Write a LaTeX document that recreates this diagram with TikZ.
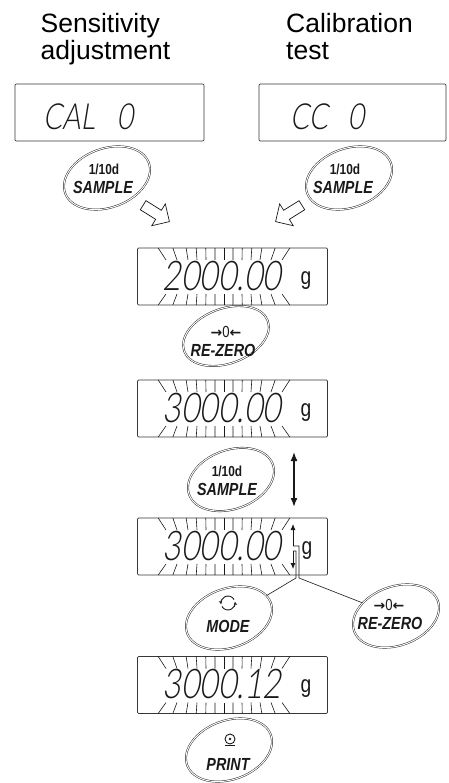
\documentclass[tikz,border=0pt]{standalone}
\usepackage{fontspec}
\usepackage{tikz}
\usetikzlibrary{
  arrows.meta,
  positioning,
  shapes.geometric,
  shapes.arrows,
  calc
}
\definecolor{inkdark}{RGB}{25, 25, 25}
\definecolor{lcdframe}{RGB}{55, 55, 55}
\newfontfamily\headfont{Liberation Sans}
\newfontfamily\keyfont[FakeStretch=0.82]{Liberation Sans}
\newfontfamily\unitfont[FakeStretch=0.8]{Liberation Sans}
\newfontfamily\symfont{DejaVu Sans}
\IfFontExistsTF{Lato Light}
  {\newfontfamily\lcdfont[FakeSlant=0.16,FakeStretch=0.78]{Lato Light}}
  {\newfontfamily\lcdfont[FakeSlant=0.16,FakeStretch=0.78]{Lato}}
\newcommand\arr[1]{{\symfont\bfseries\fontsize{14}{14}\selectfont #1}}
\newcommand\blinkrays[3]{%
  \foreach \d in {-58,-47,-36,-27,-18,-9,0,9,18,27,36,47,58}{%
    \pgfmathsetmacro\xo{#1+\d+\d/10*\d/10*\d/10/25}%
    \draw[blinkray] (\xo,#2) -- (#1+\d,#2+12);
    \draw[blinkray] (\xo,#3) -- (#1+\d,#3-11);
  }}

\begin{document}
\begin{tikzpicture}[x=1pt,y=-1pt,
  headtext/.style={font=\headfont\fontsize{26.5}{30}\selectfont,inner sep=0pt,anchor=base west},
  lcdbox/.style={draw=lcdframe,line width=0.75pt,rounded corners=1.2pt,minimum width=190pt,minimum height=57pt,inner sep=0pt},
  lcdtext/.style={font=\lcdfont\fontsize{41}{41}\selectfont,inner sep=0pt,text=inkdark},
  lcdword/.style={font=\lcdfont\fontsize{36}{36}\selectfont,inner sep=0pt,text=inkdark,anchor=west},
  lcdunit/.style={font=\unitfont\fontsize{24}{24}\selectfont,inner sep=0pt,text=inkdark},
  blinkray/.style={inkdark,line width=0.6pt},
  keyring/.style={ellipse,draw=inkdark,double,double distance=1pt,line width=0.45pt,minimum width=89pt,minimum height=59pt,inner sep=0pt,rotate=20},
  keynum/.style={font=\keyfont\bfseries\fontsize{14.5}{15}\selectfont,inner sep=0pt,text=inkdark},
  keyname/.style={font=\keyfont\bfseries\itshape\fontsize{17.5}{18}\selectfont,inner sep=0pt,text=inkdark},
  keysym/.style={font=\keyfont\fontsize{16}{16}\selectfont,inner sep=0pt,text=inkdark},
  hollowarrow/.style={single arrow,draw=inkdark,line width=0.7pt,minimum height=31pt,minimum width=25pt,inner sep=5pt,single arrow head extend=7.5pt},
  bigarrow/.style={{Latex[length=9pt,width=7pt]}-{Latex[length=9pt,width=7pt]},line width=1.6pt,inkdark},
  smallarrow/.style={-{Latex[length=6pt,width=5pt]},line width=0.8pt,inkdark},
  leader/.style={line width=0.6pt,inkdark},
  modearc/.style={-{Stealth[length=3.5pt,width=3.5pt]},line width=0.9pt,inkdark}]
\useasboundingbox (0,0) rectangle (448,783);
% headings
\node[headtext] (sensA) at (40.5,33) {Sensitivity};
\node[headtext] (sensB) at (40.5,60) {adjustment};
\node[headtext] (calibA) at (286,33) {Calibration};
\node[headtext] (calibB) at (286,60) {test};
% top displays
\node[lcdbox,minimum width=189pt] (dispCal) at (109.5,112.5) {};
\node[lcdbox,minimum width=187pt] (dispCC) at (352.5,112.5) {};
\node[lcdword] (calText) at (43,117) {CAL\hspace{22pt}0};
\node[lcdword] (ccText) at (290,117) {CC\hspace{20pt}0};
% SAMPLE keys
\node[keyring] (sampleA) at (107,178) {};
\node[keynum] (sampleAnum) at (104,169) {1/10d};
\node[keyname] (sampleAname) at (103,187) {SAMPLE};
\node[keyring] (sampleB) at (349,178) {};
\node[keynum] (sampleBnum) at (345,169) {1/10d};
\node[keyname] (sampleBname) at (343,187) {SAMPLE};
\node[hollowarrow,rotate=-32] (pushA) at (154,212) {};
\node[hollowarrow,rotate=-148] (pushB) at (291,212) {};
% 2000.00 g
\node[lcdbox] (dispOne) at (232.5,276.5) {};
\node[lcdtext] (oneVal) at (222,276) {2000.00};
\node[lcdunit] (oneUnit) at (306,281) {g};
\blinkrays{224}{248}{305}
% RE-ZERO
\node[keyring,minimum height=55pt] (rezeroA) at (226,336) {};
\node[keysym] (rezeroAsym) at (226,332) {\arr{→}0\arr{←}};
\node[keyname] (rezeroAname) at (223,350) {RE-ZERO};
% 3000.00 g
\node[lcdbox] (dispTwo) at (232.5,408.5) {};
\node[lcdtext] (twoVal) at (222,408) {3000.00};
\node[lcdunit] (twoUnit) at (306,413) {g};
\blinkrays{224}{380}{437}
% SAMPLE toggles the last digit
\node[keyring] (sampleC) at (231,479.5) {};
\node[keynum] (sampleCnum) at (227,471) {1/10d};
\node[keyname] (sampleCname) at (227,489) {SAMPLE};
\coordinate (swapTop) at (294,452);
\coordinate (swapBot) at (294,507);
\draw[bigarrow] (swapTop) -- (swapBot);
% 3000.00 g, adjust with MODE / RE-ZERO
\node[lcdbox] (dispThree) at (232.5,546.5) {};
\node[lcdtext] (threeVal) at (222,546) {3000.00};
\node[lcdunit] (threeUnit) at (307,551) {g};
\blinkrays{224}{518}{575}
\node[keyring] (modeK) at (229,618) {};
\coordinate (modeSym) at (228,603);
\draw[modearc] ($(modeSym)+(-30:7)$) arc[start angle=-30,end angle=-190,radius=7];
\draw[modearc] ($(modeSym)+(150:7)$) arc[start angle=150,end angle=-10,radius=7];
\node[keyname] (modeKname) at (228,626) {MODE};
\node[keyring] (rezeroB) at (396,616) {};
\node[keysym] (rezeroBsym) at (389,605) {\arr{→}0\arr{←}};
\node[keyname] (rezeroBname) at (390,623) {RE-ZERO};
\coordinate (upBase) at (293,546);
\coordinate (upTip) at (293,524);
\coordinate (dnBase) at (293,551);
\coordinate (dnTip) at (293,569);
\coordinate (upFoot) at (299,578);
\coordinate (dnFoot) at (296,578);
\draw[smallarrow] (upBase) -- (upTip);
\draw[smallarrow] (dnBase) -- (dnTip);
\draw[leader] (upBase) -| (upFoot) -- (rezeroB);
\draw[leader] (dnBase) -| (dnFoot) -- (modeK);
% 3000.12 g
\node[lcdbox] (dispFour) at (232.5,685) {};
\node[lcdtext] (fourVal) at (222,684) {3000.12};
\node[lcdunit] (fourUnit) at (306,689) {g};
\blinkrays{224}{656.5}{713.5}
% PRINT
\node[keyring] (printK) at (229,750) {};
\node[circle,draw=inkdark,line width=0.9pt,minimum size=10pt,inner sep=0pt] (printSym) at (230,739) {};
\fill[inkdark] (printSym.center) circle[radius=1.3];
\draw[inkdark,line width=1pt] ($(printSym.south west)+(-1,3)$) -- ($(printSym.south east)+(1,3)$);
\node[keyname] (printKname) at (228,764) {PRINT};
\end{tikzpicture}
\end{document}
